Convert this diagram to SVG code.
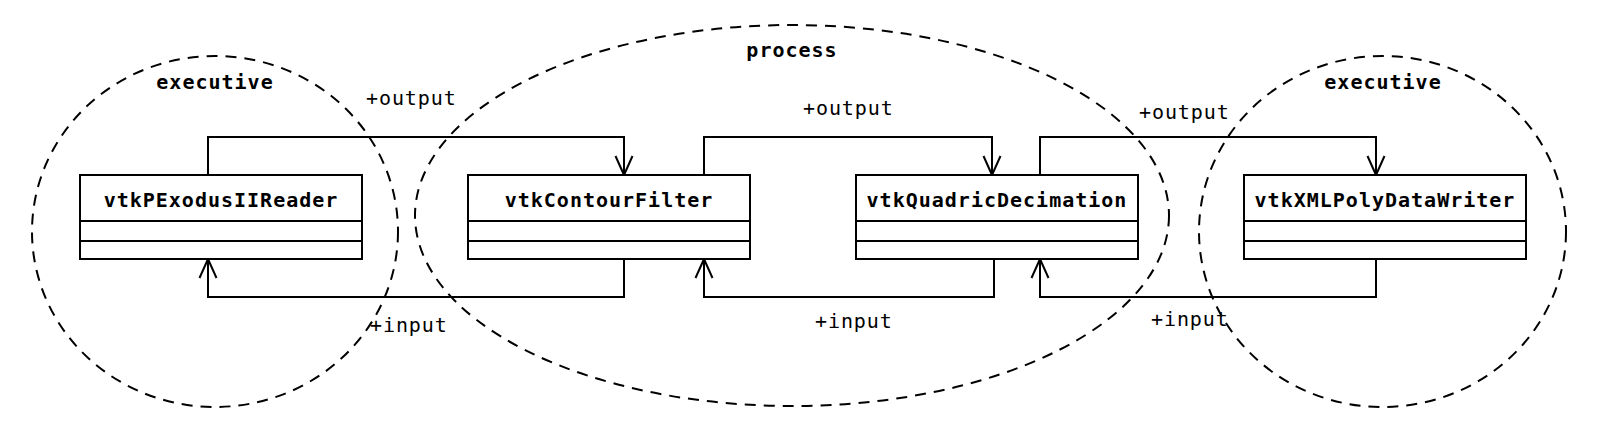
<svg xmlns="http://www.w3.org/2000/svg" width="1601" height="435" viewBox="0 0 1601 435">
<style>
.bg{fill:#ffffff}
.region{fill:none;stroke:#000;stroke-width:2;stroke-dasharray:11 8}
.box{fill:#ffffff;stroke:#000;stroke-width:2}
.div{stroke:#000;stroke-width:2}
.name{font-family:"DejaVu Sans Mono","Liberation Mono",monospace;font-weight:bold;font-size:20px;letter-spacing:1px;text-anchor:middle;fill:#000}
.lbl{font-family:"DejaVu Sans Mono","Liberation Mono",monospace;font-size:20px;letter-spacing:0.9px;fill:#000}
.conn{fill:none;stroke:#000;stroke-width:2;marker-end:url(#open)}
</style>
<defs>
<marker id="open" markerUnits="userSpaceOnUse" markerWidth="30" markerHeight="30" viewBox="-25 -15 30 30" refX="0" refY="0" orient="auto" overflow="visible">
<path d="M-19,-8.5 L0,0 L-19,8.5" fill="none" stroke="#000" stroke-width="2"/>
</marker>
</defs>
<rect class="bg" x="0" y="0" width="1601" height="435"/>
<g id="regions">
<ellipse class="region" cx="215" cy="231.5" rx="183" ry="175.5"/>
<ellipse class="region" cx="792" cy="215.5" rx="377" ry="190.5"/>
<ellipse class="region" cx="1382.5" cy="231.5" rx="183.5" ry="175.5"/>
<text class="name" x="215" y="89">executive</text>
<text class="name" x="792" y="57">process</text>
<text class="name" x="1383" y="89">executive</text>
</g>
<g id="connectors">
<path class="conn" d="M208,175 V137 H624 V175"/>
<path class="conn" d="M704,175 V137 H992 V175"/>
<path class="conn" d="M1040,175 V137 H1376 V175"/>
<path class="conn" d="M624,259 V297 H208 V259"/>
<path class="conn" d="M994,259 V297 H704 V259"/>
<path class="conn" d="M1376,259 V297 H1040 V259"/>
<text class="lbl" x="366" y="105">+output</text>
<text class="lbl" x="803" y="115">+output</text>
<text class="lbl" x="1139" y="119">+output</text>
<text class="lbl" x="370" y="332">+input</text>
<text class="lbl" x="815" y="328">+input</text>
<text class="lbl" x="1151" y="326">+input</text>
</g>
<g id="vtkPExodusIIReader">
<rect class="box" x="80" y="175" width="282" height="84"/>
<line class="div" x1="80" y1="221" x2="362" y2="221"/>
<line class="div" x1="80" y1="241" x2="362" y2="241"/>
<text class="name" x="221" y="207">vtkPExodusIIReader</text>
</g>
<g id="vtkContourFilter">
<rect class="box" x="468" y="175" width="282" height="84"/>
<line class="div" x1="468" y1="221" x2="750" y2="221"/>
<line class="div" x1="468" y1="241" x2="750" y2="241"/>
<text class="name" x="609" y="207">vtkContourFilter</text>
</g>
<g id="vtkQuadricDecimation">
<rect class="box" x="856" y="175" width="282" height="84"/>
<line class="div" x1="856" y1="221" x2="1138" y2="221"/>
<line class="div" x1="856" y1="241" x2="1138" y2="241"/>
<text class="name" x="997" y="207">vtkQuadricDecimation</text>
</g>
<g id="vtkXMLPolyDataWriter">
<rect class="box" x="1244" y="175" width="282" height="84"/>
<line class="div" x1="1244" y1="221" x2="1526" y2="221"/>
<line class="div" x1="1244" y1="241" x2="1526" y2="241"/>
<text class="name" x="1385" y="207">vtkXMLPolyDataWriter</text>
</g>
</svg>
